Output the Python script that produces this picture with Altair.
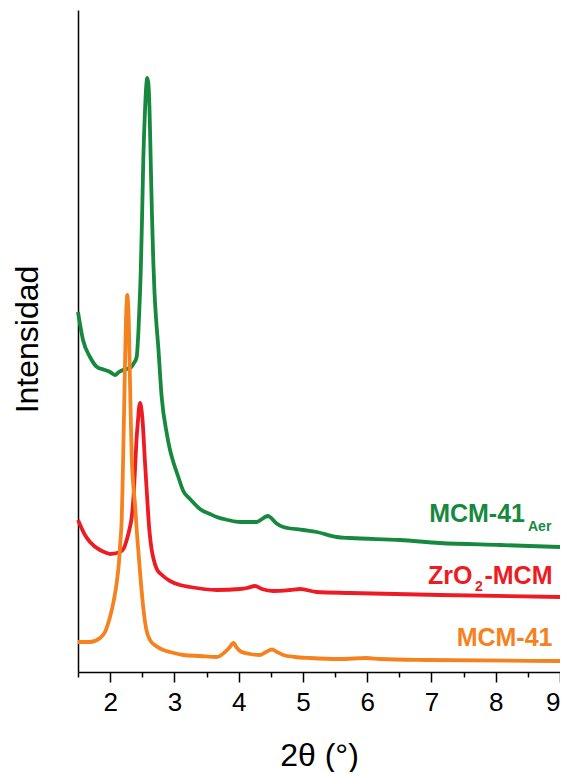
import altair as alt
import pandas as pd

# ---- data (2theta in degrees, intensity in arbitrary units) ----
series_names = ["MCM-41 Aer", "ZrO2-MCM", "MCM-41"]
series_colors = ["#17893f", "#ed1c24", "#f5821f"]

green_x = [1.500, 1.578, 1.687, 1.796, 1.920, 1.998, 2.076, 2.138, 2.200, 2.309,
           2.371, 2.413, 2.441, 2.465, 2.476, 2.496, 2.516, 2.543, 2.563, 2.578,
           2.597, 2.613, 2.631, 2.651, 2.672, 2.690, 2.714, 2.749, 2.802, 2.880,
           2.932, 2.983, 3.056, 3.138, 3.243, 3.347, 3.398, 3.554, 3.658, 3.834,
           4.021, 4.176, 4.281, 4.363, 4.410, 4.456, 4.488, 4.581, 4.694, 5.006,
           5.214, 5.525, 5.732, 6.510, 7.133, 8.066, 9.000]
green_y = [360, 332, 315, 305, 302, 300, 297, 300, 302, 304,
           309, 315, 342, 379, 400, 452, 512, 562, 587, 594,
           587, 562, 512, 457, 410, 380, 354, 325, 275, 239,
           222, 210, 196, 181, 173, 166, 163, 158, 155, 152,
           150, 150, 150, 153, 155, 156, 155, 149, 145, 142,
           140, 135, 134, 132, 129, 127, 125]

red_x = [1.500, 1.609, 1.687, 1.842, 1.947, 1.998, 2.154, 2.216, 2.258, 2.298,
         2.336, 2.360, 2.387, 2.410, 2.434, 2.449, 2.465, 2.480, 2.504, 2.543,
         2.569, 2.610, 2.647, 2.672, 2.725, 2.807, 2.932, 3.087, 3.243, 3.658,
         4.021, 4.130, 4.254, 4.363, 4.539, 4.799, 4.954, 5.214, 5.732, 7.133,
         9.000]
red_y = [152, 137, 130, 122, 119, 118, 120, 124, 132, 142,
         155, 172, 202, 232, 252, 264, 269, 266, 252, 209,
         182, 142, 122, 114, 103, 97, 91, 87, 85, 82,
         83, 84, 86, 83, 81, 82, 83, 80, 79, 77,
         75]

orange_x = [1.500, 1.687, 1.842, 1.920, 1.998, 2.052, 2.102, 2.138, 2.161, 2.180,
            2.192, 2.205, 2.216, 2.231, 2.247, 2.258, 2.267, 2.278, 2.290, 2.304,
            2.320, 2.336, 2.356, 2.387, 2.418, 2.465, 2.516, 2.558, 2.620, 2.714,
            2.827, 2.932, 3.138, 3.398, 3.658, 3.787, 3.850, 3.920, 3.974, 4.047,
            4.176, 4.332, 4.425, 4.519, 4.596, 4.694, 4.877, 5.110, 5.577, 5.992,
            6.199, 6.926, 9.000]
orange_y = [30, 30, 34, 40, 55, 70, 89, 110, 132, 152,
            182, 222, 257, 307, 352, 370, 377, 370, 352, 307,
            257, 215, 190, 168, 138, 100, 64, 44, 32, 26,
            22, 20, 17, 16, 15, 20, 24, 29, 24, 20,
            18, 17, 20, 22.5, 20, 17, 15, 14, 13, 14,
            13, 12, 11]

# curve labels
big_text = ["MCM-41", "ZrO", "-MCM", "MCM-41"]
big_x = [8.455, 7.638, 8.883, 8.883]
big_y = [150, 88.5, 88.5, 26]
big_series = ["MCM-41 Aer", "ZrO2-MCM", "ZrO2-MCM", "MCM-41"]

sub_text = ["Aer", "2"]
sub_x = [8.502, 7.677]
sub_y = [141.3, 81.3]
sub_series = ["MCM-41 Aer", "ZrO2-MCM"]

major_ticks = [2, 3, 4, 5, 6, 7, 8, 9]
minor_ticks = [1.5, 2.5, 3.5, 4.5, 5.5, 6.5, 7.5, 8.5]

# ---- tables ----
rows = []
for name, xs_, ys_ in zip(series_names, [green_x, red_x, orange_x], [green_y, red_y, orange_y]):
    for a, b in zip(xs_, ys_):
        rows.append({"series": name, "x": a, "v": b})
df = pd.DataFrame(rows)

big_df = pd.DataFrame({"t": big_text, "x": big_x, "v": big_y, "series": big_series})
sub_df = pd.DataFrame({"t": sub_text, "x": sub_x, "v": sub_y, "series": sub_series})

FONT = "Liberation Sans"

color = alt.Color("series:N",
                  scale=alt.Scale(domain=series_names, range=series_colors),
                  legend=None)

major_axis = alt.Axis(
    orient="bottom",
    values=major_ticks, tickSize=10,
    labelFontSize=26, labelPadding=7, labelFlush=1, labelOverlap=False,
    labelColor="black", labelFont=FONT,
    tickColor="black", tickWidth=1.5,
    domainColor="black", domainWidth=1.5,
    grid=False,
    title="2θ (°)", titleFontSize=32, titleFontWeight="normal",
    titleColor="black", titleFont=FONT,
    titleBaseline="alphabetic", titleY=93,
)
minor_axis = alt.Axis(
    orient="bottom",
    values=minor_ticks, tickSize=5, labels=False, domain=False, grid=False,
    tickColor="black", tickWidth=1.5, title=None,
)
y_axis = alt.Axis(
    ticks=False, labels=False, grid=False,
    domainColor="black", domainWidth=1.5,
    title="Intensidad", titleFontSize=32, titleFontWeight="normal",
    titleColor="black", titleFont=FONT,
    titleAngle=270, titleBaseline="alphabetic", titleAlign="center",
    titleX=-41, titleY=329,
)

xs = alt.Scale(domain=[1.5, 9], nice=False, zero=False)
ys = alt.Scale(domain=[0, 662], nice=False, zero=False)


def line_layer(name, axis):
    return alt.Chart(df).transform_filter(alt.datum.series == name).mark_line(
        strokeWidth=3.8, interpolate="monotone"
    ).encode(
        x=alt.X("x:Q", scale=xs, axis=axis),
        y=alt.Y("v:Q", scale=ys, axis=y_axis),
        color=color,
    )


green_layer = line_layer(series_names[0], major_axis)
red_layer = line_layer(series_names[1], minor_axis)
orange_layer = line_layer(series_names[2], None)

big = alt.Chart(big_df).mark_text(
    align="right", baseline="alphabetic", fontSize=25, fontWeight="bold", font=FONT
).encode(x=alt.X("x:Q", scale=xs, axis=None), y=alt.Y("v:Q", scale=ys, axis=y_axis),
         text="t:N", color=color)

sub = alt.Chart(sub_df).mark_text(
    align="left", baseline="alphabetic", fontSize=14, fontWeight="bold", font=FONT
).encode(x=alt.X("x:Q", scale=xs, axis=None), y=alt.Y("v:Q", scale=ys, axis=y_axis),
         text="t:N", color=color)

chart = alt.layer(green_layer, red_layer, orange_layer, big, sub).resolve_axis(
    x="independent"
).properties(
    width=482, height=662,
    autosize=alt.AutoSizeParams(type="none"),
    padding={"left": 70, "top": 2, "right": 0, "bottom": 100},
).configure(font=FONT).configure_view(stroke=None)

chart.save("out.html", embed_options={"renderer": "svg", "actions": False})
